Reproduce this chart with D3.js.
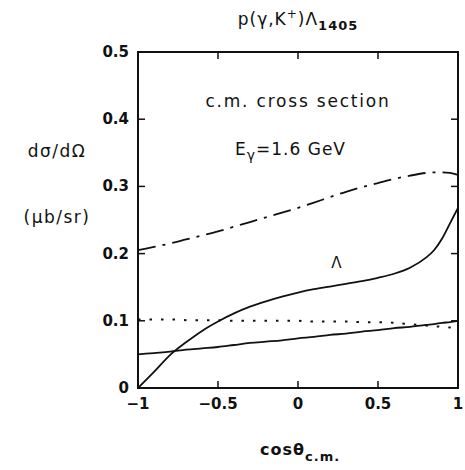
<!DOCTYPE html>
<html>
<head>
<meta charset="utf-8">
<script src="https://cdn.jsdelivr.net/npm/d3@7"></script>
<style>
  body { margin: 0; background: #fff; }
  svg text { font-family: "DejaVu Sans", "Liberation Sans", sans-serif; fill: #111; }
</style>
</head>
<body>
<svg id="chart" width="465" height="470"></svg>
<script>
// x values (cos theta c.m.) and curve values
var cosGrid = [-1, -0.9, -0.8, -0.7, -0.6, -0.5, -0.4, -0.3, -0.2, -0.1, 0, 0.1, 0.2, 0.3, 0.4, 0.5, 0.6, 0.7, 0.8, 0.85, 0.9, 0.95, 1];
var lambdaCurve = [0, 0.024, 0.049, 0.068, 0.085, 0.099, 0.111, 0.121, 0.129, 0.136, 0.142, 0.147, 0.151, 0.155, 0.159, 0.164, 0.170, 0.179, 0.194, 0.205, 0.222, 0.245, 0.268];
var dashDotCurve = [0.205, 0.210, 0.215, 0.221, 0.227, 0.233, 0.240, 0.247, 0.254, 0.261, 0.268, 0.276, 0.284, 0.292, 0.299, 0.305, 0.311, 0.316, 0.320, 0.321, 0.321, 0.320, 0.317];
var dottedCurve = [0.102, 0.102, 0.102, 0.101, 0.101, 0.101, 0.100, 0.100, 0.100, 0.100, 0.100, 0.099, 0.099, 0.099, 0.098, 0.098, 0.097, 0.095, 0.093, 0.092, 0.091, 0.090, 0.089];
var lowerCurve = [0.050, 0.052, 0.054, 0.057, 0.059, 0.061, 0.064, 0.067, 0.069, 0.071, 0.074, 0.076, 0.079, 0.081, 0.084, 0.086, 0.089, 0.091, 0.094, 0.095, 0.097, 0.098, 0.100];

var xTicks = [-1, -0.5, 0, 0.5, 1];
var xTickLabels = ['\u22121', '\u22120.5', '0', '0.5', '1'];
var yTicks = [0, 0.1, 0.2, 0.3, 0.4, 0.5];
var yTickLabels = ['0', '0.1', '0.2', '0.3', '0.4', '0.5'];

var margin = {top: 52, right: 7, bottom: 82, left: 138},
    width = 465 - margin.left - margin.right,
    height = 470 - margin.top - margin.bottom;

var svg = d3.select('svg#chart');
var g = svg.append('g').attr('transform', 'translate(' + margin.left + ',' + margin.top + ')');

var xScale = d3.scaleLinear().domain([-1, 1]).range([0, width]);
var yScale = d3.scaleLinear().domain([0, 0.5]).range([height, 0]);

// frame
g.append('rect')
    .attr('width', width).attr('height', height)
    .style('fill', 'none').style('stroke', '#111').style('stroke-width', 2);

// inward ticks on all four sides
var innerX = xTicks.slice(1, -1), innerY = yTicks.slice(1, -1);
g.selectAll('.tick-b').data(innerX).enter().append('line')
    .attr('x1', xScale).attr('x2', xScale).attr('y1', height).attr('y2', height - 7)
    .style('stroke', '#111').style('stroke-width', 1.5);
g.selectAll('.tick-t').data(innerX).enter().append('line')
    .attr('x1', xScale).attr('x2', xScale).attr('y1', 0).attr('y2', 7)
    .style('stroke', '#111').style('stroke-width', 1.5);
g.selectAll('.tick-l').data(innerY).enter().append('line')
    .attr('y1', yScale).attr('y2', yScale).attr('x1', 0).attr('x2', 7)
    .style('stroke', '#111').style('stroke-width', 1.5);
g.selectAll('.tick-r').data(innerY).enter().append('line')
    .attr('y1', yScale).attr('y2', yScale).attr('x1', width).attr('x2', width - 7)
    .style('stroke', '#111').style('stroke-width', 1.5);

// tick labels
g.selectAll('.xlab').data(xTicks).enter().append('text')
    .attr('x', xScale).attr('y', height + 21)
    .style('text-anchor', 'middle').style('font-size', '15px').style('font-weight', 'bold')
    .text(function(d, i) { return xTickLabels[i]; });
g.selectAll('.ylab').data(yTicks).enter().append('text')
    .attr('x', -9).attr('y', function(d) { return yScale(d) + 5; })
    .style('text-anchor', 'end').style('font-size', '15px').style('font-weight', 'bold')
    .text(function(d, i) { return yTickLabels[i]; });

// curves
var line = d3.line()
    .x(function(d) { return xScale(d[0]); })
    .y(function(d) { return yScale(d[1]); })
    .curve(d3.curveMonotoneX);

function drawCurve(values, dash, w) {
    g.append('path')
        .datum(d3.zip(cosGrid, values))
        .attr('d', line)
        .style('fill', 'none').style('stroke', '#111')
        .style('stroke-width', w)
        .style('stroke-dasharray', dash);
}
drawCurve(lambdaCurve, null, 1.8);
drawCurve(lowerCurve, null, 1.8);
drawCurve(dashDotCurve, '18,7,3,7', 1.8);
drawCurve(dottedCurve, '2.5,9', 2);

// annotations
g.append('text').attr('x', xScale(0)).attr('y', 55)
    .style('text-anchor', 'middle').style('font-size', '17px').style('letter-spacing', '1.8px')
    .text('c.m. cross section');
var eText = g.append('text').attr('x', 97).attr('y', 103)
    .style('font-size', '17px').style('letter-spacing', '1px');
eText.append('tspan').text('E');
eText.append('tspan').attr('dy', 5).style('font-size', '14px').text('\u03b3');
eText.append('tspan').attr('dy', -5).text('=1.6  GeV');
g.append('text').attr('x', xScale(0.24)).attr('y', 216)
    .style('text-anchor', 'middle').style('font-size', '15px')
    .text('\u039b');

// title
var title = svg.append('text').attr('x', margin.left + width / 2).attr('y', 25)
    .style('text-anchor', 'middle').style('font-size', '17px').style('letter-spacing', '1px');
title.append('tspan').text('p(\u03b3,K');
title.append('tspan').attr('dy', -7).style('font-size', '12px').text('+');
title.append('tspan').attr('dy', 7).text(')\u039b');
title.append('tspan').attr('dy', 5).style('font-size', '13px').style('font-weight', 'bold').text('1405');

// axis labels
svg.append('text').attr('x', 57).attr('y', 157)
    .style('text-anchor', 'middle').style('font-size', '17px').style('letter-spacing', '1.5px')
    .text('d\u03c3/d\u03a9');
svg.append('text').attr('x', 57).attr('y', 223)
    .style('text-anchor', 'middle').style('font-size', '17px').style('letter-spacing', '1.5px')
    .text('(\u03bcb/sr)');
var xl = svg.append('text').attr('x', 260).attr('y', 455)
    .style('font-size', '16px').style('font-weight', 'bold').style('letter-spacing', '1px');
xl.append('tspan').text('cos\u03b8');
xl.append('tspan').attr('dy', 6).style('font-size', '13px').text('c.m.');
</script>
</body>
</html>
